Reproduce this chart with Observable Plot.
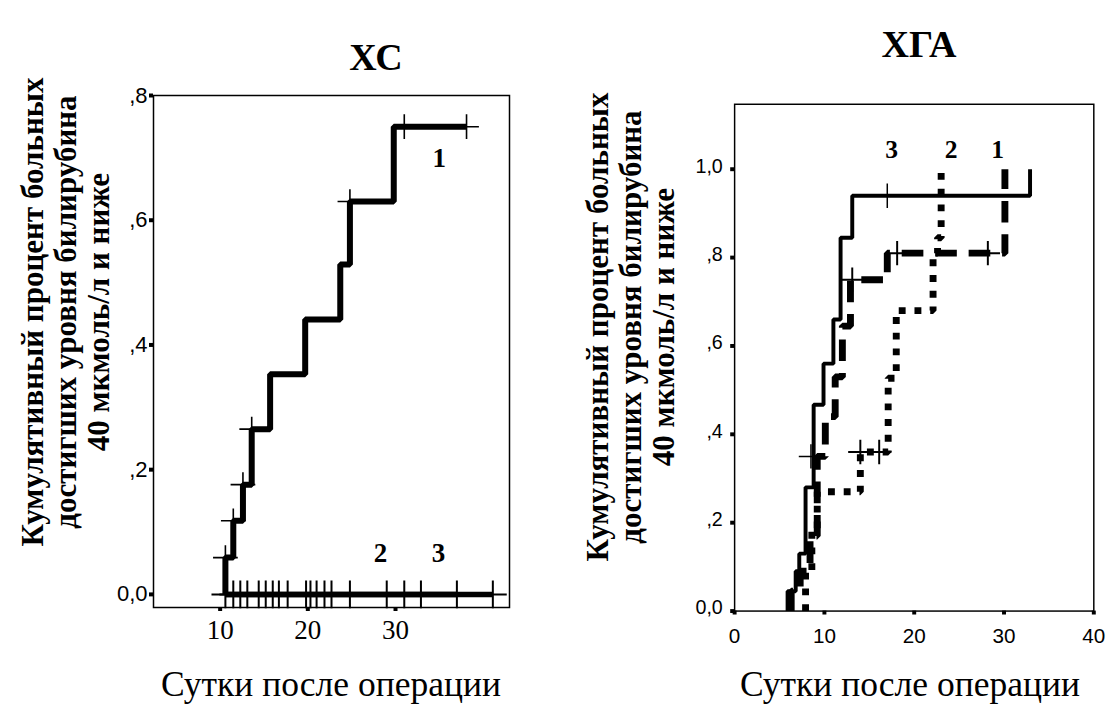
<!DOCTYPE html>
<html>
<head>
<meta charset="utf-8">
<script src="https://cdn.jsdelivr.net/npm/d3@7"></script>
<script src="https://cdn.jsdelivr.net/npm/@observablehq/plot@0.6"></script>
<style>
  html, body { margin: 0; padding: 0; background: white; }
  #page { position: relative; width: 1113px; height: 704px; overflow: hidden; background: white; }
  .serif { font-family: "Liberation Serif", "Times New Roman", serif; color: black; }
  .abs { position: absolute; white-space: nowrap; z-index: 2; line-height: 1; }
  .center { transform: translate(-50%, -50%); }
  .ylab { transform: translate(-50%, -50%) rotate(-90deg); text-align: center; font-weight: bold; font-size: 31px; line-height: 33px; }
  .title { font-weight: bold; font-size: 38px; }
  .xlab { font-size: 35.5px; }
  .plot { position: absolute; z-index: 1; }
</style>
</head>
<body>
<div id="page">
  <div class="abs serif title center" style="left:376px; top:57px;">ХС</div>
  <div class="abs serif title center" style="left:919px; top:44px;">ХГА</div>
  <div class="abs serif ylab" style="left:65px; top:312px;">Кумулятивный процент больных<br>достигших уровня билирубина<br>40 мкмоль/л и ниже</div>
  <div class="abs serif ylab" style="left:630px; top:327px;">Кумулятивный процент больных<br>достигших уровня билирубина<br>40 мкмоль/л и ниже</div>
  <div class="abs serif xlab center" style="left:331px; top:685px;">Сутки после операции</div>
  <div class="abs serif xlab center" style="left:910px; top:685px;">Сутки после операции</div>
  <div id="left" class="plot" style="left:100px; top:80px;"></div>
  <div id="right" class="plot" style="left:680px; top:90px;"></div>
</div>
<script>
// ---------- ХС (left panel) ----------
const xcDays1 = [10.6, 10.6, 11.5, 12.6, 13.6, 15.7, 19.7, 23.7, 24.8, 29.8, 38.1];
const xcCum1  = [0, 0.059, 0.118, 0.176, 0.265, 0.353, 0.441, 0.529, 0.63, 0.75, 0.75];
const xcDays2 = [10.6, 37.0];
const xcCum2  = [0, 0];
const xcDays3 = [10.6, 41.1];
const xcCum3  = [0, 0];
const xcCens1Days = [10.6, 11.5, 12.6, 13.6, 24.8, 31.0, 38.1];
const xcCens1Cum  = [0.059, 0.118, 0.176, 0.265, 0.63, 0.75, 0.75];
const xcCens2Days = [11.5, 13.1, 15.2, 16.7, 19.8, 21.0, 22.7, 29.0, 32.9, 37.0];
const xcCens3Days = [10.6, 12.3, 14.4, 16.0, 17.7, 20.3, 21.9, 24.8, 31.0, 41.1];
const xcLabels    = ["1", "2", "3"];
const xcLabelDays = [35.0, 28.3, 34.9];
const xcLabelCum  = [0.70, 0.066, 0.066];
const xcXTicks = [10, 20, 30];
const xcYTicks = [0, 0.2, 0.4, 0.6, 0.8];

// ---------- ХГА (right panel) ----------
const xgaDays1 = [6.3, 6.3, 7.3, 8.4, 9.2, 10.1, 11.2, 12.0, 12.9, 17.0, 30.1];
const xgaCum1  = [0, 0.045, 0.09, 0.17, 0.35, 0.44, 0.53, 0.645, 0.75, 0.81, 1.0];
const xgaDays2 = [7.9, 7.9, 8.6, 9.2, 14.0, 17.1, 18.0, 22.1, 22.6, 23.0];
const xgaCum2  = [0, 0.09, 0.18, 0.27, 0.36, 0.527, 0.68, 0.81, 0.845, 1.0];
const xgaDays3 = [5.9, 5.9, 6.8, 7.2, 7.9, 8.8, 9.9, 11.0, 11.8, 13.1, 32.9];
const xgaCum3  = [0, 0.045, 0.09, 0.13, 0.28, 0.467, 0.56, 0.66, 0.845, 0.94, 1.0];
const xgaCens1Days = [13.1, 18.1, 28.2];
const xgaCens1Cum  = [0.75, 0.81, 0.81];
const xgaCens2Days = [14.0, 16.1];
const xgaCens2Cum  = [0.36, 0.36];
const xgaCens3Days = [8.5, 17.0];
const xgaCens3Cum  = [0.35, 0.94];
const xgaLabels    = ["3", "2", "1"];
const xgaLabelDays = [17.5, 24.1, 29.3];
const xgaLabelCum  = [1.044, 1.044, 1.044];
const xgaXTicks = [0, 10, 20, 30, 40];
const xgaYTicks = [0, 0.2, 0.4, 0.6, 0.8, 1.0];

// ---------- helpers ----------
const SERIF = "Liberation Serif, Times New Roman, serif";
const SANS = "Liberation Sans, Arial, sans-serif";
const zip = (xs, ys) => xs.map((x, i) => ({x, y: ys[i]}));
const zipConst = (xs, c) => xs.map(x => ({x, y: c}));
const lab = (t, xs, ys) => t.map((text, i) => ({text, x: xs[i], y: ys[i]}));
const fmt = v => v === 0 ? "0,0" : (Math.abs(v - 1) < 1e-9 ? "1,0" : "," + Math.round(v * 10));
const blank = () => "";

// ---------- left plot ----------
const leftPlot = Plot.plot({
  width: 430, height: 560,
  marginLeft: 53, marginTop: 15, marginRight: 21, marginBottom: 33,
  style: {background: "transparent", color: "black", overflow: "visible"},
  x: {domain: [2.4, 43]},
  y: {domain: [-0.021, 0.8]},
  marks: [
    Plot.frame({stroke: "black", strokeWidth: 1.5}),
    Plot.axisY({ticks: xcYTicks, tickFormat: blank, tickSize: 4, strokeWidth: 4, label: null}),
    Plot.axisX({ticks: xcXTicks, tickFormat: blank, tickSize: 4, strokeWidth: 4, label: null}),
    Plot.text(xcYTicks, {y: d => d, text: fmt, frameAnchor: "left", dx: -6, textAnchor: "end", lineAnchor: "middle",
      fontSize: 22, fontFamily: SANS, fill: "black"}),
    Plot.text(xcXTicks, {x: d => d, text: d => String(d), frameAnchor: "bottom", dy: 23, lineAnchor: "middle",
      fontSize: 27, fontFamily: SERIF, fill: "black"}),
    Plot.line(zip(xcDays3, xcCum3), {x: "x", y: "y", stroke: "black", strokeWidth: 5.5, strokeLinecap: "butt"}),
    Plot.line(zip(xcDays2, xcCum2), {x: "x", y: "y", stroke: "black", strokeWidth: 5.5, strokeLinecap: "butt"}),
    Plot.line(zip(xcDays1, xcCum1), {x: "x", y: "y", curve: "step-after", stroke: "black", strokeWidth: 6,
      strokeLinecap: "butt", strokeLinejoin: "miter"}),
    Plot.dot(zip(xcCens1Days, xcCens1Cum), {x: "x", y: "y", symbol: "plus", r: 8, stroke: "black", strokeWidth: 1.6}),
    Plot.dot(zipConst(xcCens2Days, 0), {x: "x", y: "y", symbol: "plus", r: 9, stroke: "black", strokeWidth: 2}),
    Plot.dot(zipConst(xcCens3Days, 0), {x: "x", y: "y", symbol: "plus", r: 9, stroke: "black", strokeWidth: 2}),
    Plot.text(lab(xcLabels, xcLabelDays, xcLabelCum), {x: "x", y: "y", text: "text", fontSize: 27,
      fontWeight: "bold", fontFamily: SERIF, fill: "black"})
  ]
});
document.getElementById("left").appendChild(leftPlot);

// ---------- right plot ----------
const rightPlot = Plot.plot({
  width: 440, height: 570,
  marginLeft: 55, marginTop: 14, marginRight: 20, marginBottom: 41,
  style: {background: "transparent", color: "black", overflow: "visible"},
  x: {domain: [0, 40]},
  y: {domain: [0, 1.147]},
  marks: [
    Plot.frame({stroke: "black", strokeWidth: 1.5}),
    Plot.axisY({ticks: xgaYTicks, tickFormat: blank, tickSize: 4, strokeWidth: 4, label: null}),
    Plot.axisX({ticks: xgaXTicks, tickFormat: blank, tickSize: 4, strokeWidth: 4, label: null}),
    Plot.text(xgaYTicks, {y: d => d, text: fmt, frameAnchor: "left", dx: -12, dy: -3, textAnchor: "end", lineAnchor: "middle",
      fontSize: 20, fontFamily: SANS, fill: "black"}),
    Plot.text(xgaXTicks, {x: d => d, text: d => String(d), frameAnchor: "bottom", dy: 26, lineAnchor: "middle",
      fontSize: 21, fontFamily: SANS, fill: "black"}),
    Plot.line(zip(xgaDays2, xgaCum2), {x: "x", y: "y", curve: "step-after", stroke: "black", strokeWidth: 7,
      strokeDasharray: "7,9", strokeLinecap: "butt", strokeLinejoin: "miter"}),
    Plot.line(zip(xgaDays1, xgaCum1), {x: "x", y: "y", curve: "step-after", stroke: "black", strokeWidth: 7,
      strokeDasharray: "22,12", strokeLinecap: "butt", strokeLinejoin: "miter"}),
    Plot.line(zip(xgaDays3, xgaCum3), {x: "x", y: "y", curve: "step-after", stroke: "black", strokeWidth: 4,
      strokeLinecap: "butt", strokeLinejoin: "miter"}),
    Plot.dot(zip(xgaCens1Days, xgaCens1Cum), {x: "x", y: "y", symbol: "plus", r: 8, stroke: "black", strokeWidth: 2}),
    Plot.dot(zip(xgaCens2Days, xgaCens2Cum), {x: "x", y: "y", symbol: "plus", r: 8, stroke: "black", strokeWidth: 2}),
    Plot.dot(zip(xgaCens3Days, xgaCens3Cum), {x: "x", y: "y", symbol: "plus", r: 8, stroke: "black", strokeWidth: 1.5}),
    Plot.text(lab(xgaLabels, xgaLabelDays, xgaLabelCum), {x: "x", y: "y", text: "text", fontSize: 26,
      fontWeight: "bold", fontFamily: SERIF, fill: "black"})
  ]
});
document.getElementById("right").appendChild(rightPlot);
</script>
</body>
</html>
